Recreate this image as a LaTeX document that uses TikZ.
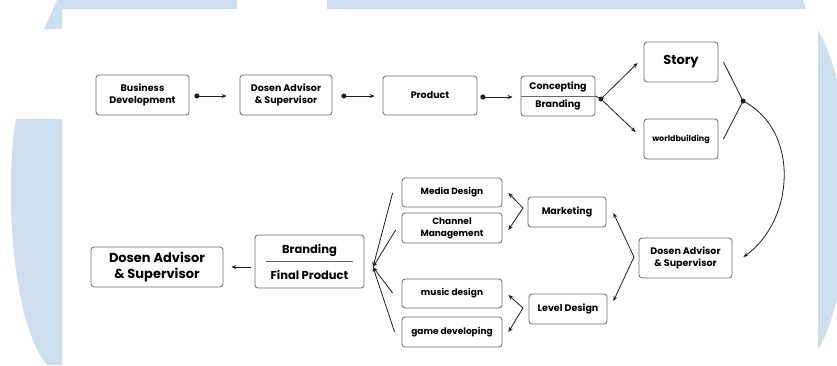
\documentclass[tikz,border=0pt]{standalone}
\usepackage{fontspec}
\setmainfont{Poppins}
\usetikzlibrary{arrows.meta,calc}
\definecolor{bgblue}{RGB}{205,222,238}
\definecolor{boxgray}{RGB}{105,105,105}
\definecolor{linec}{RGB}{30,30,30}
\tikzset{
  box/.style={draw=boxgray,line width=0.8pt,rounded corners=3pt,fill=white,align=center,inner sep=0pt,font=\bfseries\fontsize{9.5}{12.5}\selectfont},
  lbl/.style={inner sep=0pt,align=center,font=\bfseries\fontsize{9.5}{12.5}\selectfont},
  conn/.style={draw=linec,line width=0.8pt},
  arr/.style={conn,-{Stealth[length=5pt,width=4pt]}},
  dotarr/.style={conn,{Circle[length=5pt]}-{Stealth[length=5pt,width=4pt]}},
  jdot/.style={circle,fill=linec,inner sep=0pt,minimum size=5pt},
  divider/.style={draw=boxgray,line width=0.8pt}
}
\begin{document}
\begin{tikzpicture}[x=1pt,y=-1pt]
\useasboundingbox (0,0) rectangle (837,365);
% background watermark
\begin{scope}
\clip (0,0) rectangle (837,365);
\fill[bgblue] (57,0) -- (237,0) -- (237,9) -- (62,9) -- (62,29) -- (44,29) -- cycle;
\fill[bgblue] (327,0) -- (803,0) -- (806,9) -- (327,9) -- cycle;
\fill[bgblue] (16,119) -- (62,119) -- (62,365) -- (47,365) .. controls (10,320) and (5,180) .. (16,119) -- cycle;
\fill[bgblue] (818,30) .. controls (835,60) and (848,110) .. (848,190) .. controls (848,270) and (835,320) .. (818,350) -- cycle;
\end{scope}

% top row
\node[box,minimum width=93pt,minimum height=40pt] (bd) at (142.5,95) {Business\\Development};
\node[box,minimum width=92pt,minimum height=40pt] (da1) at (286,95) {Dosen Advisor\\\& Supervisor};
\node[box,minimum width=94pt,minimum height=39pt] (prod) at (430,95.5) {Product};
\node[box,minimum width=74pt,minimum height=40pt] (cb) at (558,96) {};
\draw[divider] (cb.west) -- (cb.east);
\node[lbl] (cbt) at ($(cb.center)+(0,-9)$) {Concepting};
\node[lbl] (cbb) at ($(cb.center)+(0,9)$) {Branding};
\node[box,minimum width=74pt,minimum height=40pt,font=\bfseries\fontsize{13}{15}\selectfont] (story) at (681,62) {Story};
\node[box,minimum width=74pt,minimum height=40pt,font=\bfseries\fontsize{8}{10}\selectfont] (wb) at (681,139) {worldbuilding};

% lower right
\node[box,minimum width=93pt,minimum height=40pt] (da2) at (685.5,258) {Dosen Advisor\\\& Supervisor};
\node[box,minimum width=78pt,minimum height=30pt] (mkt) at (567,212) {Marketing};
\node[box,minimum width=78pt,minimum height=30pt] (lvl) at (568,309) {Level Design};
\node[box,minimum width=100pt,minimum height=29pt,font=\bfseries\fontsize{9}{12}\selectfont] (md) at (452,192.5) {Media Design};
\node[box,minimum width=100pt,minimum height=30pt,font=\bfseries\fontsize{9}{12}\selectfont] (cm) at (452,228) {Channel\\Management};
\node[box,minimum width=100pt,minimum height=29pt,font=\bfseries\fontsize{9}{12}\selectfont] (mus) at (452,293.5) {music design};
\node[box,minimum width=100pt,minimum height=30pt,font=\bfseries\fontsize{9}{12}\selectfont] (gd) at (452,332) {game developing};

% final
\node[box,minimum width=109pt,minimum height=53pt] (bfp) at (309.5,261.5) {};
\draw[divider] ($(bfp.center)+(-43.5,-0.5)$) -- ($(bfp.center)+(43.5,-0.5)$);
\node[lbl,font=\bfseries\fontsize{11.5}{14}\selectfont] (bfpt) at ($(bfp.center)+(0,-11.5)$) {Branding};
\node[lbl,font=\bfseries\fontsize{11.5}{14}\selectfont] (bfpb) at ($(bfp.center)+(0,13.5)$) {Final Product};
\node[box,minimum width=132pt,minimum height=40pt,font=\bfseries\fontsize{13}{16}\selectfont] (da3) at (157,267) {Dosen Advisor\\\& Supervisor};

% junction points
\node[jdot] (j1) at (601,99) {};
\node[jdot] (j2) at (743,101) {};
\coordinate (j3) at (634,257);
\coordinate (j4) at (523,208);
\coordinate (j5) at (523,308);
\coordinate (j6) at (373,267);

% top row connectors
\draw[dotarr] ($(bd.east)+(5,1)$) -- ($(da1.west)+(-13,1)$);
\draw[dotarr] ($(da1.east)+(9,1)$) -- ($(prod.west)+(-8,0.5)$);
\draw[dotarr] ($(prod.east)+(3,1.5)$) -- ($(cb.west)+(-8,1)$);
\draw[conn] (cb.east) -- (j1.center);
\draw[arr] (j1.center) -- ($(story.west)+(-6,1)$);
\draw[arr] (j1.center) -- ($(wb.west)+(-8,-7)$);
\draw[conn] ($(story.east)+(5,0)$) -- (j2.center);
\draw[conn] ($(wb.east)+(5,0)$) -- (j2.center);
\draw[arr] (j2.center) .. controls (800,130) and (795,220) .. ($(da2.east)+(11,-1)$);

% lower connectors
\draw[arr] (j3) -- ($(mkt.east)+(7,1)$);
\draw[arr] (j3) -- ($(lvl.east)+(6,-8)$);
\draw[arr] (j4) -- ($(md.east)+(6,0.5)$);
\draw[arr] (j4) -- ($(cm.east)+(6,2)$);
\draw[arr] (j5) -- ($(mus.east)+(6,1.5)$);
\draw[arr] (j5) -- ($(gd.east)+(6,0)$);
\draw[arr] ($(md.west)+(-9,0.5)$) -- (j6);
\draw[arr] ($(cm.west)+(-6,2)$) -- (j6);
\draw[arr] ($(mus.west)+(-9,-0.5)$) -- (j6);
\draw[arr] ($(gd.west)+(-7,0)$) -- (j6);
\draw[arr] ($(bfp.west)+(-4,5.5)$) -- ($(da3.east)+(8,0)$);
\end{tikzpicture}
\end{document}
